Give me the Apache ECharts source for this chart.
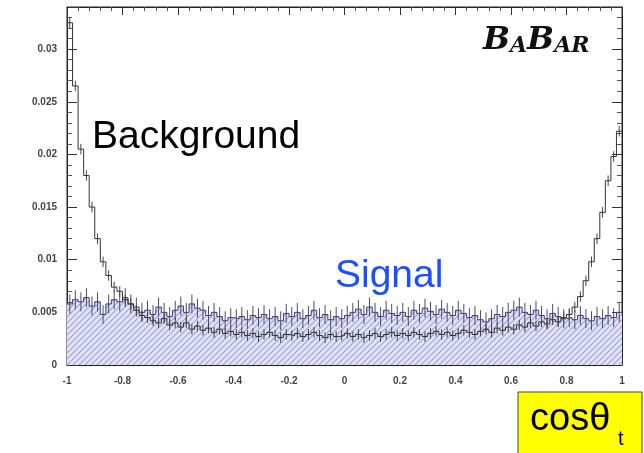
<!DOCTYPE html>
<html>
<head>
<meta charset="utf-8">
<script src="https://cdn.jsdelivr.net/npm/echarts@6/dist/echarts.min.js"></script>
<style>
  html, body { margin: 0; padding: 0; background: #fff; }
  #chart { width: 644px; height: 453px; }
</style>
</head>
<body>
<div id="chart"></div>
<script>
// histogram binning: 100 bins over cos(theta_t) in [-1, 1]
var binLow = -1;
var binWidth = 0.02;

// background (open step line)
var backgroundValues = [
  0.0325, 0.0265, 0.0205, 0.0180, 0.0150, 0.0120, 0.0098, 0.0085, 0.0074, 0.0070,
  0.0062, 0.0058, 0.0052, 0.0047, 0.0045, 0.0042, 0.0040, 0.0044, 0.0038, 0.0040,
  0.0036, 0.0040, 0.0034, 0.0037, 0.0033, 0.0035, 0.0031, 0.0034, 0.0030, 0.0032,
  0.0029, 0.0031, 0.0028, 0.0030, 0.0027, 0.0029, 0.0031, 0.0028, 0.0026, 0.0029,
  0.0028, 0.0030, 0.0027, 0.0029, 0.0031, 0.0028, 0.0026, 0.0029, 0.0027, 0.0028,
  0.0030, 0.0027, 0.0029, 0.0026, 0.0028, 0.0030, 0.0027, 0.0029, 0.0031, 0.0028,
  0.0030, 0.0028, 0.0031, 0.0029, 0.0027, 0.0030, 0.0032, 0.0029, 0.0031, 0.0028,
  0.0030, 0.0033, 0.0031, 0.0029, 0.0032, 0.0034, 0.0031, 0.0035, 0.0033, 0.0036,
  0.0034, 0.0038, 0.0036, 0.0040, 0.0037, 0.0041, 0.0039, 0.0043, 0.0041, 0.0045,
  0.0048, 0.0055, 0.0065, 0.0080, 0.0098, 0.0120, 0.0145, 0.0175, 0.0198, 0.0222
];

// signal (hatched histogram)
var signalValues = [
  0.0058, 0.0062, 0.0060, 0.0064, 0.0056, 0.0060, 0.0048, 0.0058, 0.0062, 0.0060,
  0.0064, 0.0058, 0.0055, 0.0050, 0.0052, 0.0048, 0.0055, 0.0050, 0.0046, 0.0052,
  0.0056, 0.0050, 0.0058, 0.0054, 0.0052, 0.0047, 0.0050, 0.0046, 0.0042, 0.0045,
  0.0044, 0.0046, 0.0043, 0.0047, 0.0045, 0.0048, 0.0044, 0.0046, 0.0042, 0.0049,
  0.0046, 0.0050, 0.0044, 0.0047, 0.0052, 0.0045, 0.0048, 0.0043, 0.0046, 0.0044,
  0.0047, 0.0050, 0.0053, 0.0048, 0.0055, 0.0050, 0.0046, 0.0052, 0.0049, 0.0047,
  0.0050, 0.0046, 0.0052, 0.0049, 0.0054, 0.0051, 0.0048, 0.0053, 0.0050, 0.0047,
  0.0052, 0.0049, 0.0045, 0.0047, 0.0043, 0.0041, 0.0044, 0.0048, 0.0046, 0.0050,
  0.0052, 0.0055, 0.0050, 0.0048, 0.0052, 0.0047, 0.0044, 0.0049, 0.0046, 0.0044,
  0.0045, 0.0043, 0.0047, 0.0044, 0.0042, 0.0046, 0.0044, 0.0047, 0.0045, 0.0050
];

// typical half-length of the error bars
var signalErr = 0.0009;
var backgroundErr = 0.0005;

var xTicks = { min: -1, max: 1, interval: 0.2 };
var yTicks = { min: 0, max: 0.034, interval: 0.005 };

// step data: one point per lower bin edge, plus the closing upper edge
function toSteps(values) {
  var pts = values.map(function (v, i) {
    return [+(binLow + i * binWidth).toFixed(4), v];
  });
  pts.push([+(binLow + values.length * binWidth).toFixed(4), values[values.length - 1]]);
  return pts;
}

// error bar data: bin centre, value, half-length
function toErrors(values, err) {
  return values.map(function (v, i) {
    return [+(binLow + (i + 0.5) * binWidth).toFixed(4), v, err];
  });
}

function renderError(params, api) {
  var x = api.value(0), v = api.value(1), e = api.value(2);
  var lo = api.coord([x, Math.max(0, v - e)]);
  var hi = api.coord([x, v + e]);
  return {
    type: "line",
    shape: { x1: lo[0], y1: lo[1], x2: hi[0], y2: hi[1] },
    style: { stroke: api.visual("color"), lineWidth: 1 }
  };
}

// diagonal hatch pattern for the signal fill
function hatchPattern() {
  var c = document.createElement("canvas");
  c.width = 6;
  c.height = 6;
  var ctx = c.getContext("2d");
  ctx.fillStyle = "#e2e2f6";
  ctx.fillRect(0, 0, 6, 6);
  ctx.strokeStyle = "#a4a4dc";
  ctx.lineWidth = 1.2;
  ctx.beginPath();
  ctx.moveTo(0, 6); ctx.lineTo(6, 0);
  ctx.moveTo(-3, 3); ctx.lineTo(3, -3);
  ctx.moveTo(3, 9); ctx.lineTo(9, 3);
  ctx.stroke();
  return c;
}

function fmtX(v) {
  var r = Math.round(v * 10) / 10;
  return r === 0 ? "0" : String(r);
}
function fmtY(v) {
  return v === 0 ? "0" : String(+v.toFixed(3));
}

var chart = echarts.init(document.getElementById("chart"));
var labelFont = { color: "#444", fontSize: 10, fontWeight: "bold", fontFamily: "Liberation Sans" };
var tickCommon = {
  axisLine: { show: true, onZero: false, lineStyle: { color: "#222" } },
  splitLine: { show: false }
};

chart.setOption({
  animation: false,
  grid: { left: 67, right: 22, top: 7, bottom: 88, show: true, borderColor: "#222", borderWidth: 1 },
  xAxis: [
    Object.assign({
      type: "value", min: xTicks.min, max: xTicks.max, interval: xTicks.interval,
      axisTick: { inside: true, length: 8, lineStyle: { color: "#333" } },
      minorTick: { show: true, splitNumber: 5, length: 4, lineStyle: { color: "#555" } },
      axisLabel: Object.assign({ margin: 11, formatter: fmtX }, labelFont)
    }, tickCommon),
    Object.assign({
      type: "value", position: "top", min: xTicks.min, max: xTicks.max, interval: xTicks.interval,
      axisTick: { inside: true, length: 8, lineStyle: { color: "#333" } },
      minorTick: { show: true, splitNumber: 5, length: 4, lineStyle: { color: "#555" } },
      axisLabel: { show: false }
    }, tickCommon)
  ],
  yAxis: [
    Object.assign({
      type: "value", min: yTicks.min, max: yTicks.max, interval: yTicks.interval,
      axisTick: { show: true, inside: true, length: 10, lineStyle: { color: "#333" } },
      minorTick: { show: true, splitNumber: 5, length: 5, lineStyle: { color: "#555" } },
      axisLabel: Object.assign({ margin: 10, formatter: fmtY, showMaxLabel: false }, labelFont)
    }, tickCommon),
    Object.assign({
      type: "value", position: "right", min: yTicks.min, max: yTicks.max, interval: yTicks.interval,
      axisTick: { show: true, inside: true, length: 10, lineStyle: { color: "#333" } },
      minorTick: { show: true, splitNumber: 5, length: 5, lineStyle: { color: "#555" } },
      axisLabel: { show: false }
    }, tickCommon)
  ],
  series: [
    {
      name: "Signal",
      type: "line",
      step: "end",
      symbol: "none",
      data: toSteps(signalValues),
      lineStyle: { color: "#3c3c6e", width: 1 },
      areaStyle: { color: { image: hatchPattern(), repeat: "repeat" }, opacity: 1 },
      z: 2
    },
    {
      name: "Signal errors",
      type: "custom",
      renderItem: renderError,
      data: toErrors(signalValues, signalErr),
      itemStyle: { color: "#4a4a78" },
      z: 3
    },
    {
      name: "Background",
      type: "line",
      step: "end",
      symbol: "none",
      data: toSteps(backgroundValues),
      lineStyle: { color: "#333", width: 1 },
      z: 4
    },
    {
      name: "Background errors",
      type: "custom",
      renderItem: renderError,
      data: toErrors(backgroundValues, backgroundErr),
      itemStyle: { color: "#444" },
      z: 4
    }
  ],
  graphic: [
    {
      type: "text", left: 92, top: 118,
      style: { text: "Background", fill: "#000", font: "39px 'Liberation Sans'" }
    },
    {
      type: "text", left: 335, top: 257,
      style: { text: "Signal", fill: "#1a4fff", font: "39px 'Liberation Sans'" }
    },
    {
      type: "text", left: 483, top: 25,
      style: {
        text: "{b|B}{s|A}{b|B}{s|AR}",
        rich: {
          b: { font: "italic bold 32px 'DejaVu Serif'", fill: "#111", verticalAlign: "bottom" },
          s: { font: "italic bold 22px 'DejaVu Serif'", fill: "#111", verticalAlign: "bottom" }
        }
      }
    },
    {
      type: "rect", shape: { x: 518, y: 392, width: 124, height: 70 },
      style: { fill: "#ffff00", stroke: "#444", lineWidth: 1 }
    },
    {
      type: "text", left: 530, top: 401,
      style: { text: "cosθ", fill: "#000", font: "38px 'Liberation Sans'" }
    },
    {
      type: "text", left: 618, top: 429,
      style: { text: "t", fill: "#000", font: "20px 'Liberation Sans'" }
    }
  ]
});
</script>
</body>
</html>
